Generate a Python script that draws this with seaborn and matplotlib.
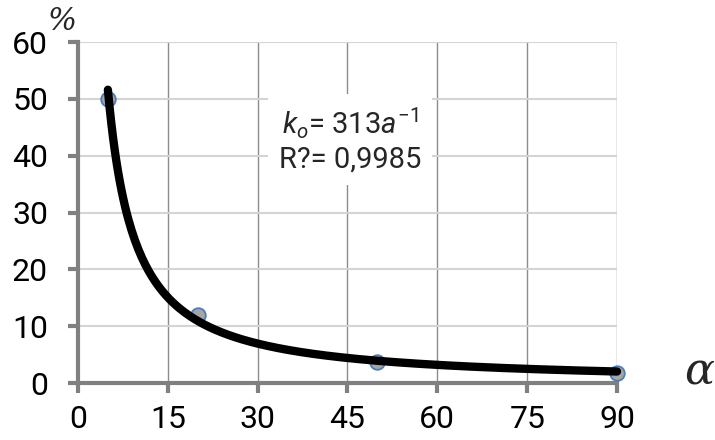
import numpy as np
import pandas as pd
import seaborn as sns
import matplotlib.pyplot as plt

# measured points
alpha = [5, 20, 50, 90]
k_pct = [50, 12, 3.7, 1.8]

# power trend line k = c * a^-b
trend_c = 313
trend_b = 1.12
x_ticks = [0, 15, 30, 45, 60, 75, 90]
y_ticks = [0, 10, 20, 30, 40, 50, 60]

sns.set_style('white')
plt.rcParams['font.family'] = ['Roboto', 'DejaVu Sans']
plt.rcParams['mathtext.fontset'] = 'custom'
plt.rcParams['mathtext.rm'] = 'Roboto'
plt.rcParams['mathtext.it'] = 'Roboto:italic'

pts = pd.DataFrame({'alpha': alpha, 'k': k_pct})
xs = np.linspace(alpha[0], alpha[-1], 300)
trend = pd.DataFrame({'alpha': xs, 'k': trend_c * xs ** (-trend_b)})

fig = plt.figure(figsize=(7.15, 4.4), dpi=100)
ax = fig.add_axes([0.109, 0.1295, 0.754, 0.775])

sns.scatterplot(data=pts, x='alpha', y='k', ax=ax, color='#a6a6a6',
                edgecolor='#4a7ebb', linewidth=1.3, s=110, zorder=3,
                clip_on=False)
sns.lineplot(data=trend, x='alpha', y='k', ax=ax, color='black', lw=6,
             zorder=4, clip_on=False)

ax.set_xlim(0, 90)
ax.set_ylim(0, 60)
ax.set_xticks(x_ticks)
ax.set_yticks(y_ticks)
ax.set_xlabel('')
ax.set_ylabel('')
ax.xaxis.grid(True, color='#8c8c8c', lw=1)
ax.yaxis.grid(True, color='#d4d4d4', lw=1.5)
ax.set_axisbelow(True)
for s in ['top', 'right']:
    ax.spines[s].set_visible(False)
for s in ['left', 'bottom']:
    ax.spines[s].set_color('#808080')
    ax.spines[s].set_linewidth(3)
ax.tick_params(axis='both', direction='out', length=7.5, width=3,
               bottom=True, left=True,
               color='#808080', labelsize=23, labelcolor='black')
ax.tick_params(axis='x', pad=8)
ax.tick_params(axis='y', pad=14)

ax.text(0.505, 0.713, '$k_o$= 313$a^{\\mathregular{-1}}$\nR?= 0,9985',
        transform=ax.transAxes, ha='center', va='center', fontsize=21,
        linespacing=1.2,
        bbox=dict(facecolor='white', edgecolor='none', pad=8))

fig.text(0.087, 0.95, '%', fontsize=22, style='italic', family='DejaVu Serif',
         ha='center', va='center')
fig.text(0.978, 0.155, '\u03b1', fontsize=32, style='italic',
         family='DejaVu Serif', ha='center', va='center')

fig.savefig('out.png', dpi=100)
